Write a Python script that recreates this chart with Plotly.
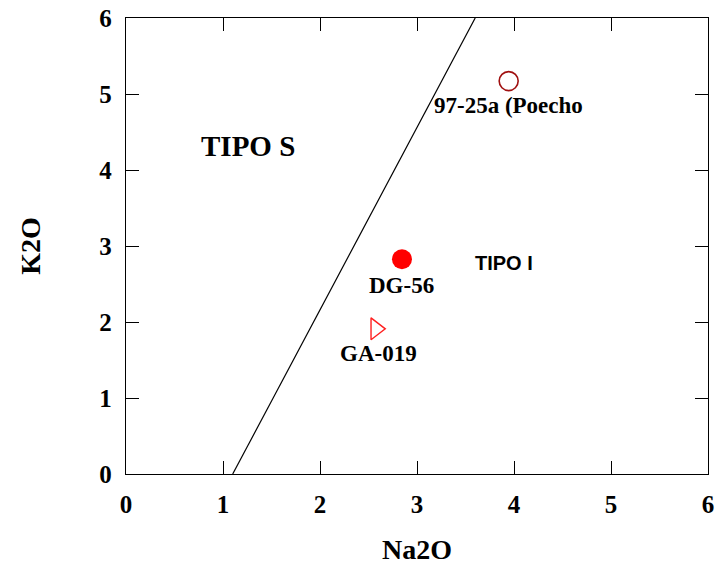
import plotly.graph_objects as go

# Sample compositions (wt%)
samples = ["97-25a (Poecho", "DG-56", "GA-019"]
na2o = [3.945, 2.845, 2.575]
k2o = [5.17, 2.825, 1.91]

# S-type / I-type discriminant line
div_na2o = [1.1, 3.6]
div_k2o = [0.0, 6.0]

# Field labels
fields = ["TIPO S", "TIPO I"]
field_x = [1.258, 3.897]
field_y = [4.316, 2.776]

tick_vals = [0, 1, 2, 3, 4, 5, 6]

serif = "Liberation Serif"
sans = "Liberation Sans"

fig = go.Figure()

fig.add_trace(go.Scatter(
    x=div_na2o, y=div_k2o, mode="lines",
    line=dict(color="black", width=1.2), showlegend=False, hoverinfo="skip",
))

styles = [
    dict(symbol="circle-open", size=19, color="#a01010", line=dict(width=1.6, color="#a01010")),
    dict(symbol="circle", size=20, color="#ff0000", line=dict(width=0)),
    dict(symbol="triangle-right-open", size=19, color="#ff2020", line=dict(width=1.4, color="#ff2020")),
]
for name, x, y, st in zip(samples, na2o, k2o, styles):
    fig.add_trace(go.Scatter(x=[x], y=[y], mode="markers", name=name,
                             marker=st, showlegend=False))

label_shift = [(0, -24), (0, -26), (3, -25)]
for name, x, y, (dx, dy) in zip(samples, na2o, k2o, label_shift):
    fig.add_annotation(x=x, y=y, text=f"<b>{name}</b>", showarrow=False,
                       xshift=dx, yshift=dy,
                       font=dict(family=serif, size=23, color="black"))

fig.add_annotation(x=field_x[0], y=field_y[0], text=f"<b>{fields[0]}</b>", showarrow=False,
                   font=dict(family=serif, size=29, color="black"))
fig.add_annotation(x=field_x[1], y=field_y[1], text=f"<b>{fields[1]}</b>", showarrow=False,
                   font=dict(family=sans, size=20, color="black"))

axis_common = dict(
    range=[0, 6], tickvals=tick_vals, ticktext=[f"<b>{v}</b>" for v in tick_vals],
    showgrid=False, zeroline=False, automargin=False,
    showline=True, linecolor="black", linewidth=1.3, mirror="ticks",
    ticks="inside", ticklen=13, tickwidth=1.2, tickcolor="black",
    tickfont=dict(family=serif, size=25, color="black"),
)

fig.update_xaxes(**axis_common,
                 title=dict(text="<b>Na2O</b>", font=dict(family=serif, size=28, color="black"),
                            standoff=22),
                 ticklabelstandoff=8)
fig.update_yaxes(**axis_common,
                 title=dict(text="<b>K2O</b>", font=dict(family=serif, size=28, color="black"),
                            standoff=50),
                 ticklabelstandoff=8)

fig.update_layout(
    width=718, height=571,
    margin=dict(l=126, r=10, t=18, b=97),
    paper_bgcolor="white", plot_bgcolor="white",
)

fig.write_html("out.html")
